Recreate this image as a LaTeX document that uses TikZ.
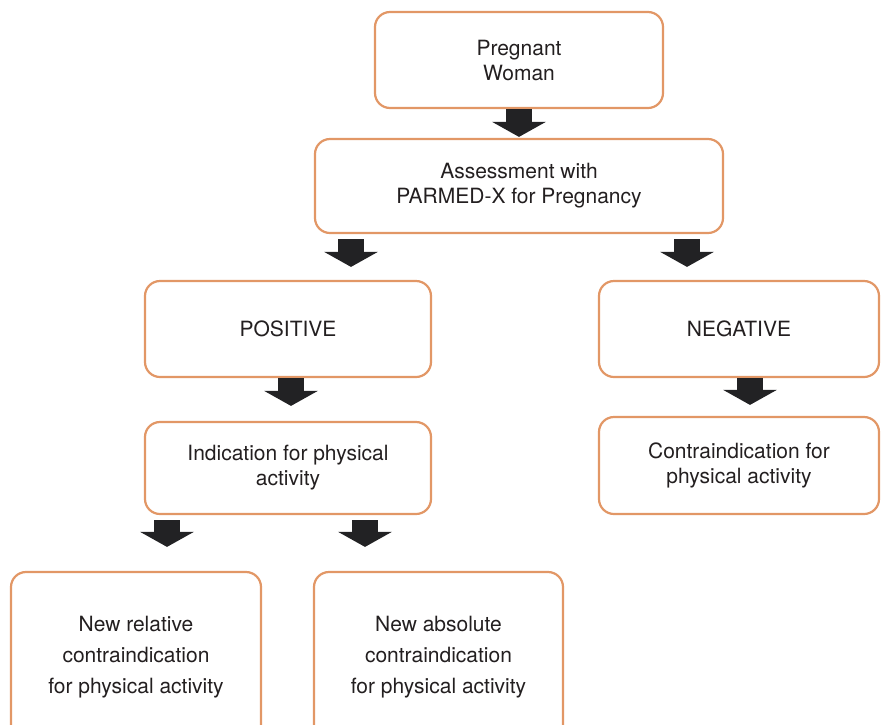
\documentclass[tikz,border=0pt]{standalone}
\usepackage{fontspec}
\setmainfont{TeX Gyre Heros}
\usetikzlibrary{arrows.meta}
\definecolor{boxorange}{RGB}{226,151,102}
\definecolor{arrowblack}{RGB}{34,34,36}
\definecolor{textgray}{RGB}{35,31,32}

\begin{document}
\begin{tikzpicture}[x = 1pt, y = -1pt,
  flowbox/.style = {draw = boxorange, line width = 2.2pt, rounded corners = 15pt, align = center, inner sep = 0pt, text = textgray, font = \fontsize{21}{25}\selectfont},
  tallbox/.style = {flowbox, font = \fontsize{21}{31}\selectfont},
  blockarrow/.style = {draw = arrowblack, line width = 26pt, -{Triangle[width = 53pt, length = 15pt]}}]
\useasboundingbox (0,0) rectangle (881,724);
\node[flowbox, minimum width = 288pt, minimum height = 96pt] (woman) at (519,60) {Pregnant\\Woman};
\node[flowbox, minimum width = 408pt, minimum height = 94pt] (assess) at (519,186) {Assessment with\\PARMED-X for Pregnancy};
\node[flowbox, minimum width = 286pt, minimum height = 96pt] (pos) at (288,329) {POSITIVE};
\node[flowbox, minimum width = 280pt, minimum height = 96pt] (neg) at (739,329) {NEGATIVE};
\node[flowbox, minimum width = 286pt, minimum height = 92pt] (ind) at (288,468) {Indication for physical\\activity};
\node[flowbox, minimum width = 280pt, minimum height = 97pt] (contra) at (739,465.5) {Contraindication for\\physical activity};
\node[tallbox, minimum width = 250pt, minimum height = 170pt] (rel) at (136,657) {New relative\\contraindication\\for physical activity};
\node[tallbox, minimum width = 249pt, minimum height = 170pt] (abs) at (438.5,657) {New absolute\\contraindication\\for physical activity};
\draw[blockarrow, shorten >= 1pt] (woman.south) -- (assess.north);
\draw[blockarrow, shorten <= 5pt, shorten >= 13pt] ([xshift = -168pt]assess.south) -- ([xshift = 63pt]pos.north);
\draw[blockarrow, shorten <= 5pt, shorten >= 13pt] ([xshift = 168pt]assess.south) -- ([xshift = -52pt]neg.north);
\draw[blockarrow, shorten >= 15pt] ([xshift = 3pt]pos.south) -- ([xshift = 3pt]ind.north);
\draw[blockarrow, shorten >= 11pt] ([xshift = 11pt]neg.south) -- ([xshift = 11pt]contra.north);
\draw[blockarrow, shorten <= 5pt, shorten >= 24pt] ([xshift = -121pt]ind.south) -- ([xshift = 31pt]rel.north);
\draw[blockarrow, shorten <= 5pt, shorten >= 24pt] ([xshift = 77pt]ind.south) -- ([xshift = -73.5pt]abs.north);
\end{tikzpicture}
\end{document}
